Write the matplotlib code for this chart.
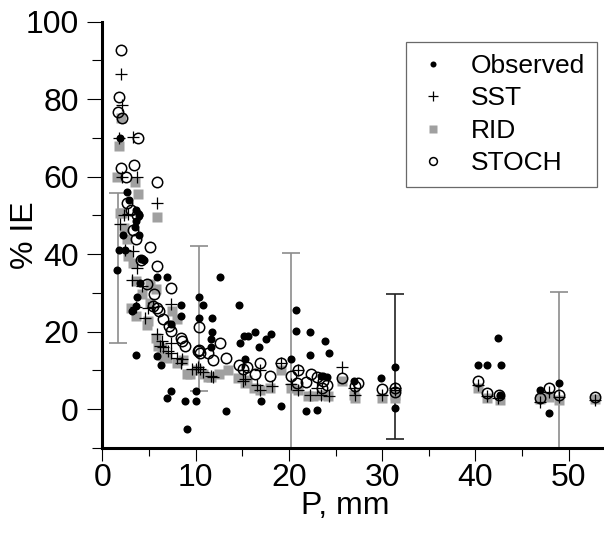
import matplotlib
matplotlib.use('Agg')
import matplotlib.pyplot as plt
from matplotlib.ticker import MultipleLocator

plt.rcParams['font.family'] = ['Liberation Sans', 'DejaVu Sans']

# 
# data
# 
obs_x = [1.6, 1.9, 2.6, 2.8, 3.6, 3.9, 3.6, 3.5, 2.2, 3.9, 1.8, 2.4, 4.1, 4.4, 4.0, 3.7,
         3.6, 3.2, 5.9, 6.9, 7.3, 3.6, 5.8, 6.3, 7.4, 6.9, 8.8, 10.0, 10.0, 9.1, 13.2,
         8.4, 8.4, 10.4, 10.8, 10.4, 11.8, 12.6, 14.6, 11.7, 11.6, 11.6, 14.7, 15.2, 15.6,
         16.4, 18.1, 17.5, 16.8, 15.3, 20.8, 20.8, 22.3, 23.9, 24.3, 22.3, 20.2, 17.0, 19.1,
         21.8, 23.0, 23.4, 23.7, 24.1, 27.0, 29.9, 31.4, 31.4, 40.3, 41.2, 42.4, 42.7, 42.6,
         46.9, 47.9, 49.0]
obs_y = [36, 70, 56, 54, 51.5, 50, 48.5, 47, 45, 45, 41, 41, 38.7, 38.5, 32.6, 29,
         26.7, 25.4, 34, 34, 22, 14, 13.8, 11.5, 4.6, 3, 2, 2, 4.6, -5, -0.5,
         27, 24, 29, 27, 23.6, 23.6, 34, 27, 20, 18, 16, 17, 19, 19,
         20, 19.5, 18, 16, 13, 25.6, 20.3, 20, 17.7, 14.4, 14, 13, 2, 0.8,
         -0.5, -0.3, 8.7, 8.5, 8.4, 7.2, 8, 10.8, 0.3, 11.5, 11.5, 18.5, 11.5, 3.8,
         4.9, -1, 6.7]

sst_x = [2.0, 2.1, 1.8, 3.3, 2.1, 3.7, 5.9, 2.7, 2.3, 1.9, 2.4, 3.3, 3.7, 3.2, 4.2, 4.9,
         3.6, 4.6, 7.3, 5.4, 5.9, 6.4, 6.2, 6.5, 7.3, 7.0, 7.4, 8.0, 8.5, 8.4, 9.6, 10.0,
         10.2, 10.5, 11.6, 10.8, 11.9, 15.1, 15.3, 15.1, 16.6, 16.9, 18.2, 16.9, 19.1, 20.2,
         21.0, 21.0, 22.3, 23.0, 23.4, 24.3, 25.7, 27.1, 27.0, 30.0, 31.4, 31.4, 40.3, 41.2,
         42.4, 46.9, 47.9, 49.0, 52.8]
sst_y = [86.4, 78.5, 70, 70.3, 60, 60, 53.3, 50.3, 50, 47.7, 41, 40.8, 36.4, 33.3, 31.8, 26.2,
         26.4, 23.6, 27.2, 26.4, 19.5, 17.7, 16.4, 16, 17.2, 15, 14.6, 13.3, 13, 12, 10.5, 10.5,
         10.8, 10.5, 8.7, 9.5, 8.2, 7.4, 7.7, 10, 6.2, 4.9, 5.9, 10, 12, 6.4,
         4.9, 10, 3.6, 5.6, 3.8, 3.3, 11, 3.6, 5.4, 3.6, 4.9, 5.6, 6.2, 3.3,
         2.8, 1.8, 4.4, 3.1, 2.3]

rid_x = [2.0, 1.8, 1.6, 3.5, 3.8, 5.9, 1.9, 2.1, 2.3, 2.6, 2.7, 3.3, 3.6, 4.2, 3.1, 5.1,
         3.6, 4.9, 5.1, 5.7, 7.5, 8.0, 4.8, 5.7, 6.0, 6.4, 6.5, 6.9, 8.0, 8.6, 9.1, 9.4,
         10.1, 10.8, 11.3, 11.6, 12.5, 13.5, 14.5, 15.5, 15.3, 16.2, 16.9, 18.0, 19.1, 20.2,
         21.0, 22.0, 22.6, 23.6, 24.2, 25.7, 27.1, 27.0, 30.0, 31.4, 31.4, 40.3, 41.2, 42.6,
         46.9, 47.9, 49.0, 52.8]
rid_y = [75, 68, 60, 58.7, 55.4, 49.7, 50.5, 50.5, 46.7, 43.8, 39.5, 37.7, 33, 29.7, 26, 27.4,
         24, 22.8, 32.3, 31, 25.4, 23.3, 21.8, 18.5, 16.4, 15.8, 13.8, 13.3, 12, 12.6, 9.2, 9.2,
         10, 9.2, 8.2, 8.2, 9, 10, 8, 7.5, 6.7, 5.5, 4.9, 5.5, 10, 5.6,
         4.9, 3.5, 3.3, 3.8, 3.3, 7.4, 3, 3.6, 3, 3.6, 3, 5.6, 2.8, 2.3,
         2.6, 3.1, 2.3, 2.6]

sto_x = [2.0, 1.8, 1.7, 2.1, 3.8, 2.0, 3.4, 2.5, 5.9, 2.6, 3.1, 3.7, 3.3, 3.6, 5.1, 4.1,
         5.8, 4.8, 7.3, 5.5, 5.4, 6.1, 6.5, 5.8, 7.1, 7.3, 8.4, 8.5, 8.9, 10.2, 10.5, 11.3,
         10.3, 10.3, 12.6, 13.2, 11.9, 14.6, 15.1, 15.5, 16.9, 16.4, 18.0, 19.1, 20.2, 21.0,
         20.9, 21.8, 22.4, 23.0, 23.7, 24.1, 23.6, 25.7, 27.1, 27.4, 30.0, 31.4, 31.4, 40.3,
         41.2, 42.5, 46.9, 47.9, 49.0, 52.8]
sto_y = [92.6, 80.5, 76.7, 75, 70, 62.3, 63, 60, 58.5, 53.1, 51.5, 50, 46.2, 43.8, 41.8, 38.5,
         37, 32.3, 31.3, 29.7, 26.7, 25.4, 23.3, 26, 21.5, 20.3, 18.5, 17.7, 16.4, 15, 14.6, 14.4,
         21.3, 15.4, 17, 13.3, 12.6, 11.3, 10.5, 10.8, 12, 9.2, 8.5, 12, 8.5, 10,
         6.7, 7, 9.2, 8.2, 7.4, 6.2, 5.6, 8, 5.9, 6.7, 5.1, 5.6, 4.4, 7.2,
         4.1, 3.8, 2.8, 5.4, 3.8, 3.1]

# error bars (x, low end, high end)
eb_x = [1.7, 10.3, 20.2, 31.4, 49.0]
eb_lo = [17.1, 4.6, -16, -7.6, -24]
eb_hi = [55.7, 42.1, 40.2, 29.7, 30.2]
eb_col = ['#8c8c8c', '#8c8c8c', '#8c8c8c', '#222222', '#8c8c8c']

# 
# plot
# 
fig = plt.figure(figsize=(6.04, 5.39), dpi=100)
ax = fig.add_axes([0.1697, 0.1688, 0.8303, 0.7912])

for i in range(len(eb_x)):
    ym = 0.5 * (eb_lo[i] + eb_hi[i])
    ax.errorbar([eb_x[i]], [ym], yerr=[[ym - eb_lo[i]], [eb_hi[i] - ym]], fmt='none',
                ecolor=eb_col[i], elinewidth=1.2, capsize=6.5, capthick=1.2, zorder=1)

ax.plot(rid_x, rid_y, ls='None', marker='s', ms=7, color='#a0a0a0', mec='none', zorder=2, label='RID')
ax.plot(sto_x, sto_y, ls='None', marker='o', ms=7.5, mfc='none', mec='black', mew=1.1, zorder=3, label='STOCH')
ax.plot(sst_x, sst_y, ls='None', marker='+', ms=9, color='black', mew=0.9, zorder=4, label='SST')
ax.plot(obs_x, obs_y, ls='None', marker='o', ms=5.8, color='black', mec='none', zorder=5, label='Observed')

ax.set_xlim(0, 53.8)
ax.set_ylim(-10, 100)
ax.xaxis.set_major_locator(MultipleLocator(10))
ax.xaxis.set_minor_locator(MultipleLocator(5))
ax.yaxis.set_major_locator(MultipleLocator(20))
ax.yaxis.set_minor_locator(MultipleLocator(10))

for s in ['top', 'right']:
    ax.spines[s].set_visible(False)
for s in ['left', 'bottom']:
    ax.spines[s].set_linewidth(2.2)
ax.tick_params(axis='y', which='major', direction='out', length=11, width=0.8, labelsize=23, pad=6)
ax.tick_params(axis='y', which='minor', direction='out', length=7, width=0.8)
ax.tick_params(axis='x', which='major', direction='out', length=9, width=0.8, labelsize=23, pad=2)
ax.tick_params(axis='x', which='minor', direction='out', length=6, width=0.8)

ax.set_xlabel('P, mm', fontsize=23)
ax.set_ylabel('% IE', fontsize=23)
ax.xaxis.set_label_coords(0.485, -0.10)
ax.yaxis.set_label_coords(-0.124, 0.5)

h, l = ax.get_legend_handles_labels()
order = [3, 2, 0, 1]
leg = ax.legend([h[k] for k in order], [l[k] for k in order], loc='upper right',
                bbox_to_anchor=(0.986, 0.952), fontsize=19, frameon=True, fancybox=False,
                markerscale=0.75, handlelength=1.1, handletextpad=0.9, labelspacing=0.32,
                borderpad=0.45, borderaxespad=0)
leg.get_frame().set_edgecolor('#444444')
leg.get_frame().set_linewidth(0.9)

fig.savefig('out.png', dpi=100)
